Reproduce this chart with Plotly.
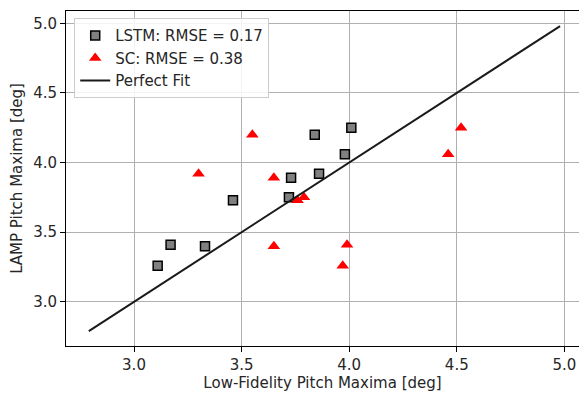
import plotly.graph_objects as go

# LAMP (high-fidelity) pitch maxima, shared by both models
lamp_y = [3.26, 3.41, 3.40, 3.73, 3.75, 3.89, 4.20, 3.92, 4.06, 4.25]
# Low-fidelity predictions
lstm_x = [3.11, 3.17, 3.33, 3.46, 3.72, 3.73, 3.84, 3.86, 3.98, 4.01]
sc_x = [3.97, 3.99, 3.65, 3.76, 3.79, 3.65, 3.55, 3.30, 4.46, 4.52]
fit_line = [2.79, 4.98]

labels = ["LSTM: RMSE = 0.17", "SC: RMSE = 0.38", "Perfect Fit"]
xticks = [3.0, 3.5, 4.0, 4.5, 5.0]
yticks = [3.0, 3.5, 4.0, 4.5, 5.0]

font = dict(family="DejaVu Sans", size=15, color="#262626")

fig = go.Figure()
fig.add_trace(go.Scatter(
    x=lstm_x, y=lamp_y, mode="markers", name=labels[0],
    marker=dict(symbol="square", size=9, color="#808080",
                line=dict(color="#000000", width=1.5)),
))
fig.add_trace(go.Scatter(
    x=sc_x, y=lamp_y, mode="markers", name=labels[1],
    marker=dict(symbol="triangle-up", size=11, color="#ff0000",
                line=dict(width=0)),
))
fig.add_trace(go.Scatter(
    x=fit_line, y=fit_line, mode="lines", name=labels[2],
    line=dict(color="#1a1a1a", width=2),
))

axis_common = dict(
    showgrid=True, gridcolor="#b0b0b0", gridwidth=1,
    showline=True, linecolor="#000000", linewidth=1,
    ticks="outside", ticklen=5, tickcolor="#000000", tickwidth=1,
    zeroline=False, tickfont=font, tickformat=".1f",
)

fig.update_layout(
    width=579, height=399,
    margin=dict(l=66, r=0, t=11, b=53),
    plot_bgcolor="white", paper_bgcolor="white",
    font=font,
    showlegend=True,
    legend=dict(
        x=0.016, y=0.978, xanchor="left", yanchor="top",
        bgcolor="rgba(255,255,255,0.85)", bordercolor="#cccccc", borderwidth=1,
        font=font, tracegroupgap=0, itemwidth=30,
    ),
    xaxis=dict(
        range=[2.684, 5.068], tickvals=xticks, mirror=True,
        title=dict(text="Low-Fidelity Pitch Maxima [deg]", font=font, standoff=4),
        **axis_common,
    ),
    yaxis=dict(
        range=[2.683, 5.088], tickvals=yticks, mirror=False,
        title=dict(text="LAMP Pitch Maxima [deg]", font=font, standoff=6),
        **axis_common,
    ),
)

fig.write_html("out.html")
